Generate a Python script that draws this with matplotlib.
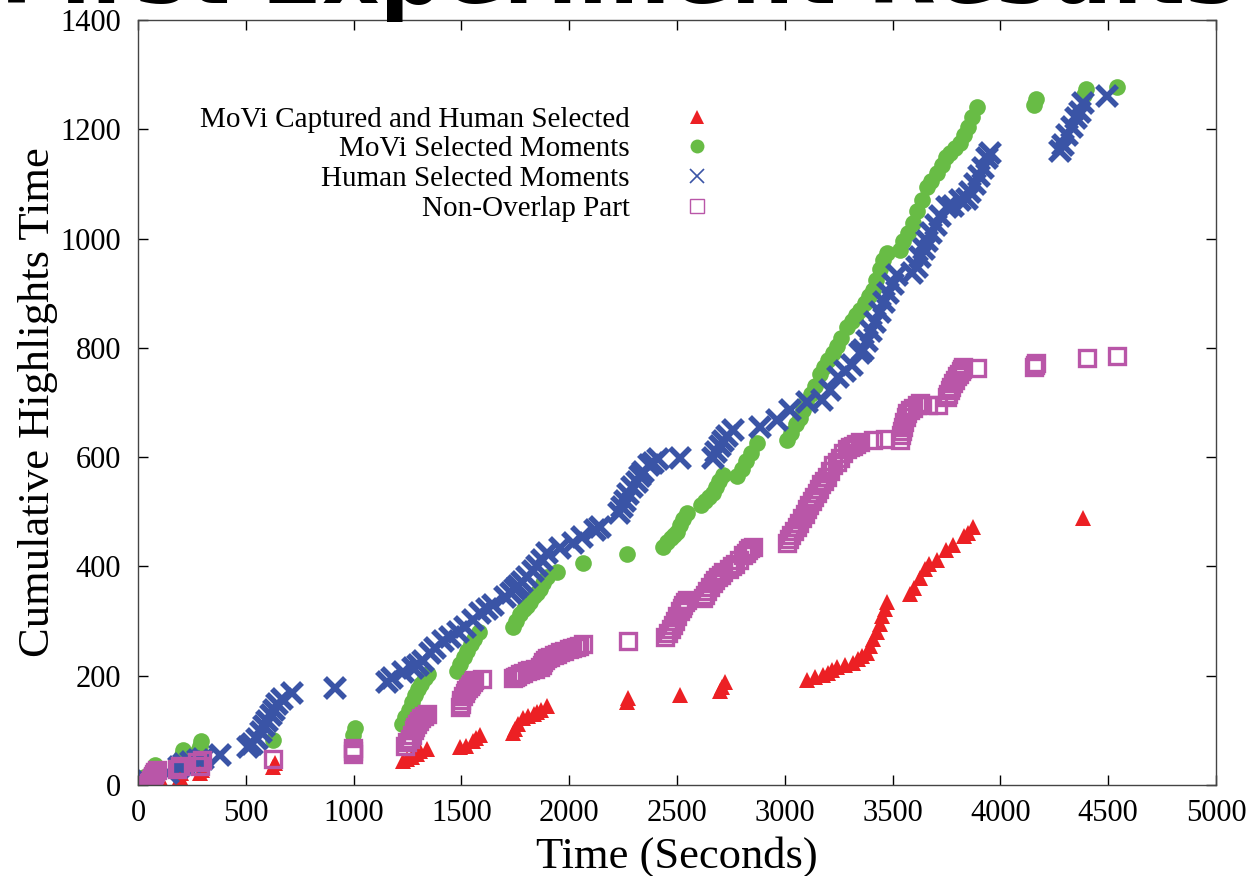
import matplotlib
matplotlib.use("Agg")
import matplotlib.pyplot as plt
from matplotlib.lines import Line2D

# Series values (time in seconds, cumulative highlights time)
captured_x = [50, 80, 100, 195, 200, 288, 295, 626, 635,
              1229, 1250, 1270, 1294, 1310, 1340, 1493, 1520, 1554, 1570, 1586,
              1739, 1750, 1765, 1786, 1810, 1835, 1851, 1870, 1897,
              2268, 2273, 2514, 2699, 2710, 2722, 3103, 3140, 3177, 3200, 3220,
              3242, 3280, 3316, 3340, 3360, 3381, 3395, 3410, 3428, 3440, 3452,
              3463, 3474, 3580, 3600, 3627, 3650, 3670, 3706, 3750, 3780, 3830,
              3850, 3873, 4383]
captured_y = [5, 10, 13, 15, 22, 22, 28, 33, 40,
              44, 48, 52, 57, 62, 66, 70, 72, 80, 86, 92,
              96, 103, 112, 122, 127, 130, 133, 138, 145,
              152, 160, 165, 172, 180, 188, 192, 197, 201, 205, 210,
              215, 220, 223, 230, 236, 242, 255, 267, 280, 295, 310,
              322, 335, 350, 360, 378, 395, 405, 412, 430, 440, 455,
              462, 472, 489]

movi_x = [30, 56, 79, 195, 204, 209, 280, 288, 293, 626, 997, 1006,
          1224, 1240, 1255, 1270, 1285, 1300, 1315, 1330, 1345,
          1479, 1495, 1510, 1526, 1545, 1560, 1580,
          1739, 1755, 1770, 1790, 1804, 1820, 1835, 1850, 1864, 1880, 1895,
          1943, 2064, 2268,
          2435, 2455, 2470, 2485, 2500, 2515, 2530, 2546,
          2610, 2630, 2650, 2667, 2680, 2695, 2713, 2780, 2800, 2820, 2845, 2870,
          3010, 3030, 3050, 3070, 3084, 3100, 3120, 3140, 3163, 3180, 3200,
          3223, 3240, 3260, 3288, 3310, 3330, 3349, 3370, 3390, 3409, 3425,
          3440, 3455, 3474, 3534, 3550, 3570, 3595, 3615, 3635, 3659, 3680,
          3706, 3730, 3750, 3766, 3790, 3812, 3830, 3850, 3870, 3891,
          4155, 4165, 4388, 4395, 4541]
movi_y = [15, 22, 37, 45, 55, 64, 62, 72, 80, 82, 92, 104,
          112, 125, 138, 152, 165, 175, 185, 195, 203,
          208, 222, 235, 245, 258, 268, 280,
          289, 300, 312, 322, 328, 335, 345, 352, 358, 370, 380,
          390, 406, 423,
          436, 445, 452, 458, 463, 475, 487, 498,
          512, 520, 527, 535, 545, 556, 567, 565, 578, 592, 608, 625,
          631, 645, 660, 672, 686, 700, 715, 730, 752, 765, 778,
          791, 803, 818, 838, 850, 860, 869, 882, 895, 906, 925,
          945, 960, 974, 979, 995, 1010, 1028, 1050, 1070, 1094, 1105,
          1120, 1135, 1150, 1157, 1165, 1175, 1190, 1205, 1222, 1241,
          1245, 1255, 1262, 1273, 1278]

human_x = [15, 40, 140, 190, 215, 245, 280, 300, 380, 510, 530, 552, 570,
           585, 600, 615, 630, 645, 668, 714, 914,
           1155, 1180, 1229, 1275, 1300, 1322, 1354, 1380, 1415, 1447, 1484,
           1517, 1554, 1586, 1620, 1646, 1702, 1730, 1749, 1765, 1781, 1804,
           1830, 1851, 1875, 1897, 1957, 2017, 2059, 2120, 2143, 2230, 2245,
           2260, 2275, 2290, 2314, 2330, 2342, 2370, 2389, 2412, 2514, 2667,
           2680, 2699, 2715, 2732, 2760, 2885, 2964, 3024, 3103, 3172, 3209,
           3247, 3280, 3311, 3349,
           3363, 3380, 3400, 3420, 3440, 3460, 3480, 3500, 3520, 3590, 3613,
           3627, 3645, 3660, 3680, 3700, 3720, 3752, 3780, 3812, 3845, 3860,
           3880, 3900, 3920, 3940, 3952,
           4276, 4290, 4310, 4330, 4350, 4369, 4383, 4494]
human_y = [3, 8, 22, 32, 38, 42, 46, 48, 55, 70, 75, 85, 97,
           108, 118, 128, 138, 148, 157, 168, 177,
           188, 195, 207, 214, 220, 227, 242, 250, 263, 270, 280,
           290, 302, 315, 322, 329, 344, 352, 358, 365, 371, 381,
           392, 400, 412, 425, 434, 443, 454, 467, 472, 497, 508,
           520, 533, 545, 555, 565, 572, 585, 590, 596, 598, 598,
           610, 620, 630, 638, 650, 655, 668, 686, 700, 705, 722,
           747, 758, 769, 790,
           796, 812, 830, 848, 866, 883, 900, 917, 933, 937, 948,
           966, 980, 995, 1010, 1025, 1042, 1058, 1060, 1070, 1072, 1085,
           1100, 1115, 1130, 1148, 1157,
           1160, 1172, 1190, 1205, 1220, 1232, 1248, 1260]

nonoverlap_x = [45, 50, 55, 60, 65, 70, 75, 80, 88, 180, 195, 274, 288, 295,
                626, 997, 997, 997,
                1240, 1250, 1260, 1270, 1280, 1287, 1294, 1305, 1315, 1328, 1340,
                1493, 1497, 1500, 1508, 1515, 1522, 1530, 1538, 1545, 1552, 1560,
                1595,
                1739, 1750, 1760, 1773, 1786, 1803, 1820, 1842, 1864, 1872, 1880,
                1888, 1897, 1913, 1930, 1943, 1957, 1978, 2000, 2015, 2030, 2047,
                2064, 2273,
                2444, 2457, 2470, 2480, 2490, 2502, 2514, 2522, 2530, 2538, 2546,
                2620, 2630, 2640, 2653, 2667, 2678, 2690, 2702, 2713, 2740, 2755,
                2770, 2788, 2806, 2818, 2830, 2841, 2852,
                3010, 3020, 3030, 3043, 3056, 3068, 3080, 3092, 3103, 3114, 3125,
                3137, 3149, 3160, 3170, 3183, 3196, 3210, 3223, 3240, 3256, 3272,
                3288, 3302, 3316, 3332, 3349, 3409, 3465,
                3534, 3540, 3545, 3550, 3555, 3561, 3567, 3581, 3595, 3611, 3627,
                3664, 3711,
                3752, 3758, 3765, 3772, 3780, 3790, 3800, 3808, 3815, 3821, 3827,
                3891, 4155, 4160, 4165, 4401, 4541]
nonoverlap_y = [0, 3, 5, 9, 12, 16, 20, 23, 27, 30, 35, 42, 35, 46,
                47, 56, 62, 68,
                72, 78, 85, 92, 100, 106, 112, 117, 122, 126, 130,
                143, 149, 155, 162, 168, 173, 178, 182, 185, 189, 192,
                194,
                196, 198, 200, 203, 205, 208, 210, 213, 216, 220, 225,
                229, 232, 235, 238, 240, 243, 246, 248, 250, 252, 255,
                258, 263,
                270, 278, 285, 292, 300, 309, 318, 324, 330, 335, 339,
                342, 348, 355, 362, 370, 375, 380, 385, 390, 395, 400,
                405, 412, 420, 425, 430, 433, 436,
                443, 450, 458, 465, 472, 480, 488, 496, 505, 512, 520,
                527, 534, 542, 550, 557, 564, 575, 585, 591, 598, 607,
                615, 618, 620, 624, 628, 631, 634,
                631, 640, 648, 656, 665, 673, 681, 686, 690, 695, 699,
                696, 696,
                710, 716, 722, 729, 736, 742, 748, 753, 758, 762, 765,
                763, 765, 769, 772, 781, 785]

labels = ["MoVi Captured and Human Selected", "MoVi Selected Moments",
          "Human Selected Moments", "Non-Overlap Part"]
x_ticks = list(range(0, 5001, 500))
y_ticks = list(range(0, 1401, 200))

RED = "#ec2024"
GREEN = "#68bc45"
BLUE = "#3a54a6"
MAGENTA = "#b956a8"

plt.rcParams["font.family"] = ["Liberation Serif", "DejaVu Serif"]

fig = plt.figure(figsize=(12.54, 8.76), dpi=100)
ax = fig.add_axes([0.1100, 0.1039, 0.8597, 0.8733])

ax.plot(captured_x, captured_y, ls="none", marker="^", ms=12, color=RED, mew=0)
ax.plot(movi_x, movi_y, ls="none", marker="o", ms=12, color=GREEN, mew=0)
ax.plot(human_x, human_y, ls="none", marker="x", ms=15, mew=4, color=BLUE)
ax.plot(nonoverlap_x, nonoverlap_y, ls="none", marker="s", ms=11, mfc="none",
        mec=MAGENTA, mew=2.4)

ax.set_xlim(0, 5000)
ax.set_ylim(0, 1400)
ax.set_xticks(x_ticks)
ax.set_yticks(y_ticks)
ax.tick_params(direction="in", length=7, width=1, top=True, right=True,
               labelsize=22, colors="black")
ax.tick_params(axis="x", pad=10)
ax.tick_params(axis="y", pad=12)
for sp in ax.spines.values():
    sp.set_linewidth(1.0)
    sp.set_color("#444444")

ax.set_xlabel("Time (Seconds)", fontsize=32, labelpad=6)
ax.set_ylabel("Cumulative Highlights Time", fontsize=32, labelpad=2)

# legend handles drawn smaller and thinner, like the original key
handles = [
    Line2D([], [], ls="none", marker="^", ms=10, color=RED, mew=0),
    Line2D([], [], ls="none", marker="o", ms=10, color=GREEN, mew=0),
    Line2D([], [], ls="none", marker="x", ms=10, mew=1.2, color=BLUE),
    Line2D([], [], ls="none", marker="s", ms=10, mfc="none", mec=MAGENTA, mew=1.0),
]
ax.legend(handles, labels, loc="upper right", bbox_to_anchor=(0.5455, 0.887),
          frameon=False, markerfirst=False, fontsize=21, handlelength=2,
          handletextpad=1.3, labelspacing=0.11, borderpad=0, borderaxespad=0)

fig.text(0.0, 0.9966, "First Experiment Results", fontsize=64,
         fontweight="bold", family="DejaVu Sans", va="baseline")

fig.savefig("out.png", dpi=100)
